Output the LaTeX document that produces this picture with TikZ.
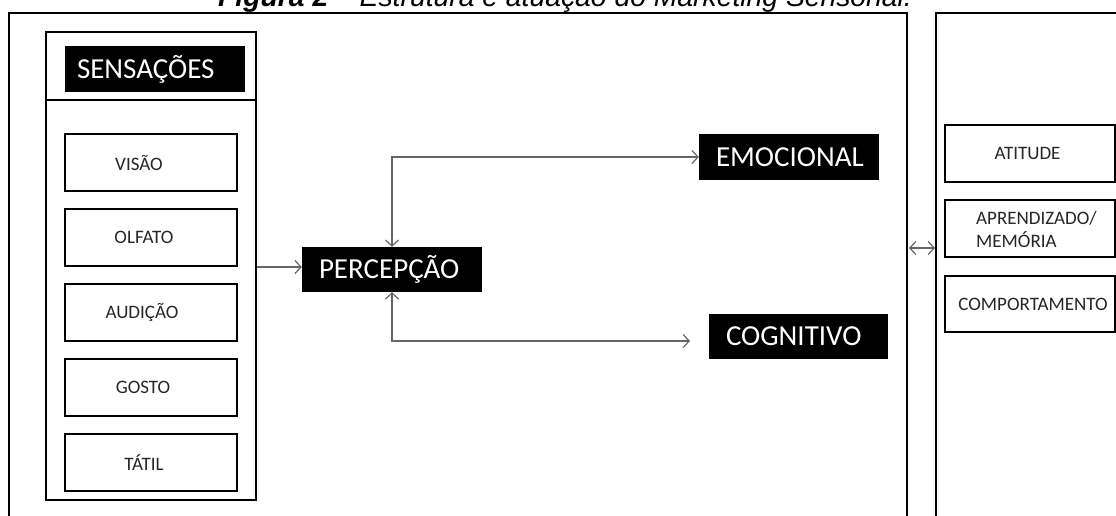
\documentclass[tikz,border=0pt]{standalone}
\usepackage{fontspec}
\setmainfont{Carlito}
\newfontfamily\titlefont{Liberation Sans}
\usetikzlibrary{arrows.meta,calc}
\begin{document}
\begin{tikzpicture}[x=1pt,y=-1pt,
  >={Straight Barb[length=6pt,width=13pt]},
  frameline/.style={line width=2.8pt,black},
  sbox/.style={draw,line width=2.6pt,minimum width=172pt,minimum height=57pt,inner sep=0pt},
  rbox/.style={draw,line width=2.6pt,minimum width=170pt,minimum height=57pt,inner sep=0pt},
  stext/.style={font=\fontsize{19}{23}\selectfont,text=black!85},
  blk/.style={fill=black,text=white,font=\fontsize{29}{31}\selectfont,align=left,inner ysep=0pt,minimum height=46pt},
  conn/.style={draw=black!60,line width=1.2pt}]
\useasboundingbox (0,0) rectangle (1116,515);
\clip (0,0) rectangle (1116,515);
\fill[white] (0,0) rectangle (1116,515);
% title (cut off at top)
\node[anchor=base west,inner sep=0pt,font=\titlefont\fontsize{28.3}{30}\selectfont] (title) at (218,6)
  {\bfseries\itshape Figura 2 \mdseries\itshape – Estrutura e atuação do Marketing Sensorial.};
% frames
\draw[frameline] (9,520) -- (9,13) -- (907,13) -- (907,520);
\draw[frameline] (936,520) -- (936,13) -- (1125,13);
% sensations container
\node[draw,line width=2.6pt,minimum width=210pt,minimum height=468pt,inner sep=0pt] (sens) at (151,266) {};
\draw[line width=2.6pt] (sens.west |- 0,100) -- (sens.east |- 0,100);
\node[blk,text width=156pt,inner xsep=12pt] (sensl) at (155,69) {SENSAÇÕES};
% sense boxes
\node[sbox,label={[stext,xshift=-12pt]center:VISÃO}] (visao) at (151,162.5) {};
\node[sbox,label={[stext,xshift=-7pt]center:OLFATO}] (olfato) at (151,237.5) {};
\node[sbox,label={[stext,xshift=-9pt]center:AUDIÇÃO}] (audicao) at (151,312.5) {};
\node[sbox,label={[stext,xshift=-8pt]center:GOSTO}] (gosto) at (151,387.5) {};
\node[sbox,label={[stext,xshift=-7pt]center:TÁTIL}] (tatil) at (151,462.5) {};
% central nodes
\node[blk,text width=146pt,inner xsep=17pt,minimum height=45pt] (perc) at (392,269.5) {PERCEPÇÃO};
\node[blk,text width=146pt,inner xsep=17pt] (emo) at (789,157) {EMOCIONAL};
\node[blk,text width=145pt,inner xsep=17pt,minimum height=45pt] (cog) at (798.5,336.5) {COGNITIVO};
% right boxes
\node[rbox,label={[stext,xshift=-2.5pt]center:ATITUDE}] (atitude) at (1030,153.5) {};
\node[rbox] (aprend) at (1030,228.5) {};
\node[stext,anchor=west,align=left,inner sep=0pt] (aprendt) at (976,229) {APRENDIZADO/\\MEMÓRIA};
\node[rbox,minimum height=56pt,label={[stext,xshift=3pt]center:COMPORTAMENTO}] (comport) at (1030,304) {};
% connectors
\draw[conn,->] (sens.east |- 0,267) -- (perc.west |- 0,267);
\draw[conn,<->] (perc.north) |- (emo.west);
\coordinate (cogend) at (690,341);
\draw[conn,<->] (perc.south) |- (cogend);
\coordinate (fl) at (909,248);
\coordinate (fr) at (935,248);
\draw[conn,<->] (fl) -- (fr);
\end{tikzpicture}
\end{document}
